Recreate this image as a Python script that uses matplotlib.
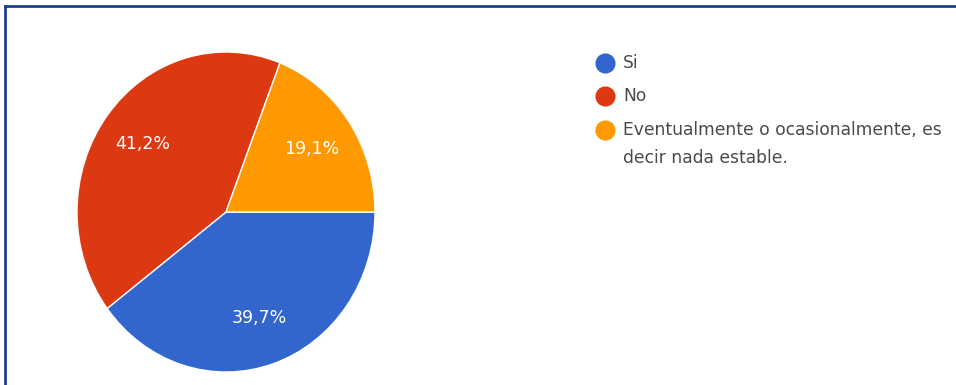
"""Pie chart: Si / No / Eventualmente, Google-Forms style."""

import matplotlib

matplotlib.use("Agg")

import matplotlib.pyplot as plt  # noqa: E402
from matplotlib.lines import Line2D  # noqa: E402

categories = ["Si", "No", "Eventualmente o ocasionalmente, es\ndecir nada estable."]
shares = [39.7, 41.2, 19.1]
pct_labels = ["39,7%", "41,2%", "19,1%"]
colors = ["#3366cc", "#dc3912", "#ff9900"]

W, H = 956, 385
plt.rcParams["font.family"] = ["DejaVu Sans"]

fig = plt.figure(figsize=(W / 100, H / 100), dpi=100)

# pie centre (226, 212) px, slightly taller than wide like the screenshot
cx, cy, rx, ry = 226, 212, 149, 160
ax = fig.add_axes([(cx - rx) / W, (H - cy - ry) / H, 2 * rx / W, 2 * ry / H])
wedges, texts = ax.pie(
    shares,
    colors=colors,
    startangle=0,
    counterclock=False,
    labels=pct_labels,
    labeldistance=0.7,
    wedgeprops={"edgecolor": "white", "linewidth": 1},
    textprops={"color": "white", "fontsize": 12.5},
)
for t in texts:
    t.set_ha("center")
    t.set_va("center")
ax.set_aspect("auto")
ax.set_xlim(-1, 1)
ax.set_ylim(-1, 1)

# legend drawn by hand so the marker sits on the first line of the long label
legend_y = [63, 96, 130]
line_gap = 28
for name, col, y in zip(categories, colors, legend_y):
    fig.add_artist(Line2D([605 / W], [1 - y / H], marker="o", markersize=13.5,
                          color=col, linestyle="none", transform=fig.transFigure))
    for i, line in enumerate(name.split("\n")):
        fig.text(623 / W, 1 - (y + i * line_gap) / H, line, ha="left", va="center",
                 fontsize=12.3, color="#4a4a4a")

# frame around the chart
frame = "#1d3f8f"
fig.add_artist(Line2D([5 / W, 5 / W], [0, 1 - 6 / H], color=frame, linewidth=2,
                      transform=fig.transFigure))
fig.add_artist(Line2D([5 / W, 1], [1 - 6 / H, 1 - 6 / H], color=frame, linewidth=2,
                      transform=fig.transFigure))

fig.savefig("out.png", dpi=100)
